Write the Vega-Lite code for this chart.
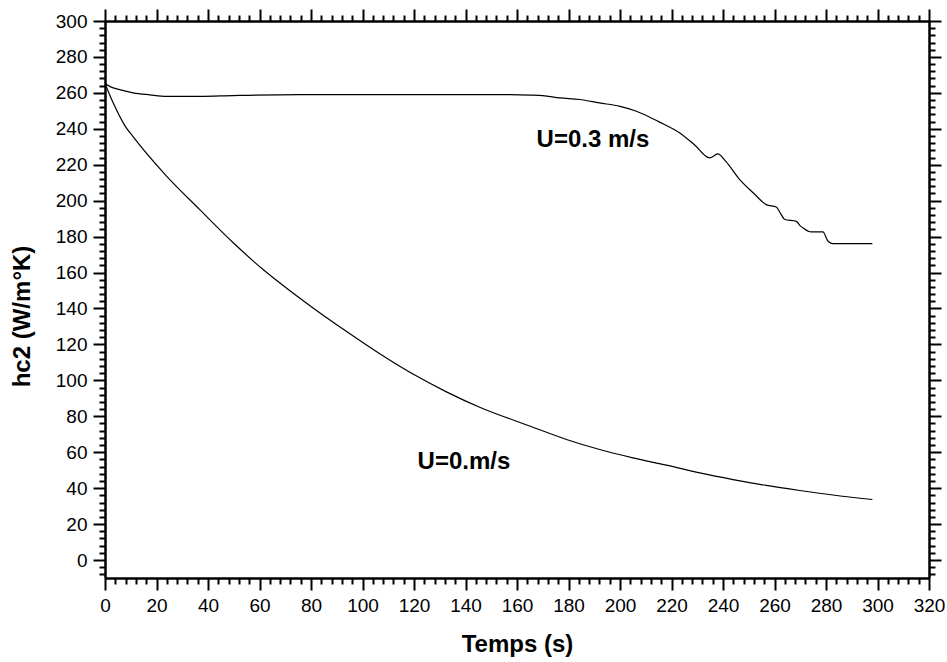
{
  "$schema": "https://vega.github.io/schema/vega-lite/v6.json",
  "width": 824,
  "height": 557,
  "autosize": {"type": "none"},
  "padding": {"left": 105, "top": 21, "right": 18, "bottom": 84},
  "background": "white",
  "config": {
    "view": {"stroke": null},
    "font": "Liberation Sans",
    "axis": {
      "grid": false,
      "domainColor": "black",
      "domainWidth": 2.5,
      "tickColor": "black",
      "tickWidth": 2,
      "labelColor": "black",
      "labelFont": "Liberation Sans",
      "labelFontSize": 19,
      "titleFont": "Liberation Sans",
      "titleFontSize": 24,
      "titleFontWeight": "bold",
      "titleColor": "black"
    }
  },
  "layer": [
    {
      "data": {
        "values": [
          {"t": 0, "h": 265, "s": "U=0.3"},
          {"t": 2, "h": 263.5, "s": "U=0.3"},
          {"t": 5.7, "h": 261.8, "s": "U=0.3"},
          {"t": 10.9, "h": 260, "s": "U=0.3"},
          {"t": 17.4, "h": 258.9, "s": "U=0.3"},
          {"t": 23.8, "h": 258.1, "s": "U=0.3"},
          {"t": 36.8, "h": 258.1, "s": "U=0.3"},
          {"t": 49.7, "h": 258.5, "s": "U=0.3"},
          {"t": 75.6, "h": 259, "s": "U=0.3"},
          {"t": 100, "h": 259, "s": "U=0.3"},
          {"t": 130, "h": 259, "s": "U=0.3"},
          {"t": 157, "h": 259, "s": "U=0.3"},
          {"t": 165, "h": 258.8, "s": "U=0.3"},
          {"t": 170, "h": 258.5, "s": "U=0.3"},
          {"t": 176.6, "h": 257.2, "s": "U=0.3"},
          {"t": 184.3, "h": 256.3, "s": "U=0.3"},
          {"t": 192, "h": 254.4, "s": "U=0.3"},
          {"t": 200, "h": 252.5, "s": "U=0.3"},
          {"t": 206.4, "h": 249.8, "s": "U=0.3"},
          {"t": 215, "h": 244, "s": "U=0.3"},
          {"t": 223.2, "h": 237.7, "s": "U=0.3"},
          {"t": 229, "h": 231, "s": "U=0.3"},
          {"t": 234.8, "h": 223.8, "s": "U=0.3"},
          {"t": 238, "h": 226, "s": "U=0.3"},
          {"t": 241, "h": 222, "s": "U=0.3"},
          {"t": 246.5, "h": 211.7, "s": "U=0.3"},
          {"t": 252, "h": 204, "s": "U=0.3"},
          {"t": 256.8, "h": 197.8, "s": "U=0.3"},
          {"t": 260.7, "h": 196.5, "s": "U=0.3"},
          {"t": 262.5, "h": 192.5, "s": "U=0.3"},
          {"t": 264, "h": 189.5, "s": "U=0.3"},
          {"t": 268.5, "h": 188.5, "s": "U=0.3"},
          {"t": 270, "h": 186, "s": "U=0.3"},
          {"t": 271, "h": 184.9, "s": "U=0.3"},
          {"t": 274.3, "h": 182.6, "s": "U=0.3"},
          {"t": 278.8, "h": 182.6, "s": "U=0.3"},
          {"t": 280.8, "h": 177.4, "s": "U=0.3"},
          {"t": 282.7, "h": 176.1, "s": "U=0.3"},
          {"t": 298, "h": 176.1, "s": "U=0.3"},
          {"t": 0, "h": 265.2, "s": "U=0"},
          {"t": 2, "h": 258.3, "s": "U=0"},
          {"t": 3.8, "h": 252.5, "s": "U=0"},
          {"t": 7.7, "h": 241.8, "s": "U=0"},
          {"t": 10.9, "h": 235.6, "s": "U=0"},
          {"t": 23.8, "h": 213.8, "s": "U=0"},
          {"t": 36.8, "h": 195, "s": "U=0"},
          {"t": 49.7, "h": 176.7, "s": "U=0"},
          {"t": 61.4, "h": 161.7, "s": "U=0"},
          {"t": 67.8, "h": 154.3, "s": "U=0"},
          {"t": 80.8, "h": 140.3, "s": "U=0"},
          {"t": 93.7, "h": 127.3, "s": "U=0"},
          {"t": 106.7, "h": 114.8, "s": "U=0"},
          {"t": 119.6, "h": 103.5, "s": "U=0"},
          {"t": 132.6, "h": 93.6, "s": "U=0"},
          {"t": 145.5, "h": 85, "s": "U=0"},
          {"t": 164.9, "h": 74.6, "s": "U=0"},
          {"t": 179.2, "h": 67.1, "s": "U=0"},
          {"t": 192.1, "h": 61.5, "s": "U=0"},
          {"t": 205, "h": 56.9, "s": "U=0"},
          {"t": 218, "h": 52.8, "s": "U=0"},
          {"t": 231, "h": 48.5, "s": "U=0"},
          {"t": 243.9, "h": 44.8, "s": "U=0"},
          {"t": 256.8, "h": 41.5, "s": "U=0"},
          {"t": 269.8, "h": 38.7, "s": "U=0"},
          {"t": 282.7, "h": 36.2, "s": "U=0"},
          {"t": 298, "h": 33.7, "s": "U=0"}
        ]
      },
      "mark": {"type": "line", "color": "black", "strokeWidth": 1.2, "clip": true, "interpolate": "monotone"},
      "encoding": {
        "x": {
          "field": "t", "type": "quantitative",
          "scale": {"domain": [0, 320], "nice": false, "zero": false},
          "axis": {
            "orient": "bottom",
            "title": "Temps (s)",
            "titleBaseline": "middle",
            "titleY": 66,
            "values": [0,4,8,12,16,20,24,28,32,36,40,44,48,52,56,60,64,68,72,76,80,84,88,92,96,100,104,108,112,116,120,124,128,132,136,140,144,148,152,156,160,164,168,172,176,180,184,188,192,196,200,204,208,212,216,220,224,228,232,236,240,244,248,252,256,260,264,268,272,276,280,284,288,292,296,300,304,308,312,316,320],
            "labelExpr": "datum.value % 20 === 0 ? datum.label : ''",
            "tickSize": {"condition": {"test": "datum.value % 20 === 0", "value": 12}, "value": 6},
            "labelPadding": 6,
            "labelFlush": false,
            "labelOverlap": false
          }
        },
        "y": {
          "field": "h", "type": "quantitative",
          "scale": {"domain": [-10, 300], "nice": false, "zero": false},
          "axis": {
            "orient": "left",
            "title": "hc2 (W/m°K)",
            "titleBaseline": "middle",
            "titleX": -83,
            "titleY": 295,
            "values": [-8,-4,0,4,8,12,16,20,24,28,32,36,40,44,48,52,56,60,64,68,72,76,80,84,88,92,96,100,104,108,112,116,120,124,128,132,136,140,144,148,152,156,160,164,168,172,176,180,184,188,192,196,200,204,208,212,216,220,224,228,232,236,240,244,248,252,256,260,264,268,272,276,280,284,288,292,296,300],
            "labelExpr": "datum.value % 20 === 0 ? datum.label : ''",
            "tickSize": {"condition": {"test": "datum.value % 20 === 0", "value": 12}, "value": 6},
            "labelPadding": 6,
            "labelFlush": false,
            "labelOverlap": false
          }
        },
        "detail": {"field": "s", "type": "nominal"}
      }
    },
    {
      "data": {
        "values": [
          {"t": 167.6, "h": 234, "label": "U=0.3 m/s"},
          {"t": 121.4, "h": 54.8, "label": "U=0.m/s"}
        ]
      },
      "mark": {"type": "text", "align": "left", "baseline": "middle", "fontSize": 24, "fontWeight": "bold", "font": "Liberation Sans", "color": "black"},
      "encoding": {
        "x": {
          "field": "t", "type": "quantitative",
          "axis": {
            "orient": "top",
            "title": null,
            "labels": false,
            "values": [0,4,8,12,16,20,24,28,32,36,40,44,48,52,56,60,64,68,72,76,80,84,88,92,96,100,104,108,112,116,120,124,128,132,136,140,144,148,152,156,160,164,168,172,176,180,184,188,192,196,200,204,208,212,216,220,224,228,232,236,240,244,248,252,256,260,264,268,272,276,280,284,288,292,296,300,304,308,312,316,320],
            "tickSize": {"condition": {"test": "datum.value % 20 === 0", "value": 12}, "value": 6}
          }
        },
        "y": {
          "field": "h", "type": "quantitative",
          "axis": {
            "orient": "right",
            "title": null,
            "labels": false,
            "values": [-8,-4,0,4,8,12,16,20,24,28,32,36,40,44,48,52,56,60,64,68,72,76,80,84,88,92,96,100,104,108,112,116,120,124,128,132,136,140,144,148,152,156,160,164,168,172,176,180,184,188,192,196,200,204,208,212,216,220,224,228,232,236,240,244,248,252,256,260,264,268,272,276,280,284,288,292,296,300],
            "tickSize": {"condition": {"test": "datum.value % 20 === 0", "value": 12}, "value": 6}
          }
        },
        "text": {"field": "label"}
      }
    }
  ],
  "resolve": {"axis": {"x": "independent", "y": "independent"}}
}
